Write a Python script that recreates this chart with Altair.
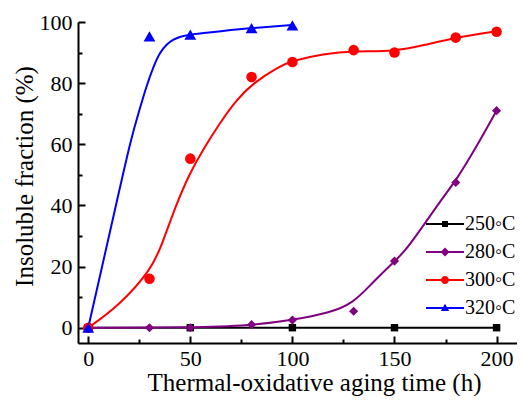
import altair as alt
import pandas as pd

# ---- data ----
series = ["250◦C", "280◦C", "300◦C", "320◦C"]
colors = ["#000000", "#800080", "#ff0000", "#0000ff"]
shapes = ["square", "diamond", "circle", "triangle-up"]
point_sizes = [55, 140, 80, 90]

# measured points
time_250 = [0, 50, 100, 150, 200]
frac_250 = [0, 0, 0, 0, 0]
time_280 = [0, 30, 50, 80, 100, 130, 150, 180, 200]
frac_280 = [0, 0, 0, 1, 2.5, 5.4, 21.8, 47.5, 71]
time_300 = [0, 30, 50, 80, 100, 130, 150, 180, 200]
frac_300 = [0, 16, 55.3, 82, 86.9, 90.8, 90, 94.9, 96.8]
time_320 = [0, 30, 50, 80, 100]
frac_320 = [0, 95.3, 95.9, 98, 98.9]

# fitted curves
curve_t_250 = [0, 200]
curve_f_250 = [0, 0]
curve_t_280 = [0, 50, 80, 100, 118, 130, 139, 150, 156, 173, 180, 190, 200]
curve_f_280 = [0, 0, 0.7, 2.5, 4.8, 8.1, 14.6, 21.7, 25.5, 42, 48, 59, 71]
curve_t_300 = [0, 14.8, 30.9, 36, 43.2, 49.7, 56.2, 64.4, 72.5, 80.7, 93.7, 100,
               115, 130, 150, 165, 180, 200]
curve_f_300 = [0, 7, 19, 27, 40.5, 50.5, 58.2, 66.9, 74.5, 80, 85.5, 87.3,
               89.6, 90.6, 90.3, 92.5, 94.9, 97]
curve_t_320 = [0, 6.8, 13.8, 21, 25, 28.5, 32, 35, 38.5, 41.5, 45, 50, 65, 80, 100]
curve_f_320 = [0, 20, 40.7, 62, 71, 79, 85.5, 90, 92.8, 94.2, 95.2, 96, 97, 98, 99]

x_major = [0, 50, 100, 150, 200]
x_minor = [25, 75, 125, 175]
y_major = [0, 20, 40, 60, 80, 100]
y_minor = [10, 30, 50, 70, 90]

# legend glyphs: line segment + marker
line_seg = "M-1.9,-0.1H1.9V0.1H-1.9Z"
legend_paths = [
    line_seg + " M-0.3,-0.3H0.3V0.3H-0.3Z",
    line_seg + " M0,-0.45L0.45,0L0,0.45L-0.45,0Z",
    line_seg + " M-0.4,0A0.4,0.4,0,1,1,0.4,0A0.4,0.4,0,1,1,-0.4,0Z",
    line_seg + " M0,-0.42L0.42,0.3L-0.42,0.3Z",
]

# ---- tables ----
pts = pd.concat([
    pd.DataFrame({"t": t, "f": f, "s": s})
    for t, f, s in zip([time_250, time_280, time_300, time_320],
                       [frac_250, frac_280, frac_300, frac_320], series)
], ignore_index=True)
crv = pd.concat([
    pd.DataFrame({"t": t, "f": f, "s": s})
    for t, f, s in zip([curve_t_250, curve_t_280, curve_t_300, curve_t_320],
                       [curve_f_250, curve_f_280, curve_f_300, curve_f_320], series)
], ignore_index=True)

W, H = 439, 321
FONT = "Liberation Serif"
xs = alt.Scale(domain=[-5, 210], nice=False, zero=False)
ys = alt.Scale(domain=[-5, 100], nice=False, zero=False)
cs = alt.Scale(domain=series, range=colors)

tick_common = dict(labels=False, domain=False, grid=False, title=None,
                   tickColor="black", tickWidth=2)

lines = alt.Chart(crv).mark_line(strokeWidth=2, interpolate="basis").encode(
    x=alt.X("t:Q", scale=xs, axis=alt.Axis(
        orient="bottom", values=x_major, ticks=False, tickSize=0, grid=False,
        domainColor="black", domainWidth=2, labelFont=FONT, labelFontSize=22,
        labelColor="black", labelPadding=5, labelFlush=False,
        title="Thermal-oxidative aging time (h)", titleFont=FONT,
        titleFontSize=25, titleFontWeight="normal", titleColor="black",
        titleX=236, titleY=47, titleAlign="center", titleBaseline="alphabetic")),
    y=alt.Y("f:Q", scale=ys, axis=alt.Axis(
        orient="left", values=y_major, ticks=False, tickSize=0, grid=False,
        domainColor="black", domainWidth=2, labelFont=FONT, labelFontSize=22,
        labelColor="black", labelPadding=6, labelFlush=False,
        title="Insoluble fraction (%)", titleFont=FONT, titleFontSize=25,
        titleFontWeight="normal", titleColor="black", titleAngle=270,
        titleX=-46, titleY=154, titleAlign="center", titleBaseline="alphabetic")),
    color=alt.Color("s:N", scale=cs, legend=None),
    detail="s:N",
)

points = alt.Chart(pts).mark_point(filled=True, opacity=1).encode(
    x=alt.X("t:Q", scale=xs, axis=alt.Axis(orient="top", offset=-H,
                                           values=x_major, tickSize=7, **tick_common)),
    y=alt.Y("f:Q", scale=ys, axis=alt.Axis(orient="right", offset=-W,
                                           values=y_major, tickSize=7, **tick_common)),
    color=alt.Color("s:N", scale=cs, legend=None),
    shape=alt.Shape("s:N", scale=alt.Scale(domain=series, range=shapes), legend=None),
    size=alt.Size("s:N", scale=alt.Scale(domain=series, range=point_sizes), legend=None),
)

leg = alt.Legend(orient="none", legendX=357, legendY=192, title=None, padding=0,
                 symbolSize=400, symbolStrokeWidth=0, symbolOpacity=1,
                 labelFont=FONT, labelFontSize=20, labelColor="black",
                 labelOffset=10, rowPadding=8)

legend_layer = alt.Chart(pts).mark_point(filled=True, opacity=0).encode(
    x=alt.X("t:Q", scale=xs, axis=alt.Axis(orient="top", offset=-H,
                                           values=x_minor, tickSize=4, **tick_common)),
    y=alt.Y("f:Q", scale=ys, axis=alt.Axis(orient="right", offset=-W,
                                           values=y_minor, tickSize=4, **tick_common)),
    color=alt.Color("s:N", scale=cs, legend=leg),
    shape=alt.Shape("s:N", scale=alt.Scale(domain=series, range=legend_paths), legend=leg),
)

chart = alt.layer(lines, points, legend_layer).resolve_scale(
    color="independent", shape="independent", size="independent"
).resolve_axis(x="independent", y="independent").properties(
    width=W, height=H,
    padding={"left": 70, "top": 14, "right": 0, "bottom": 53},
    autosize=alt.AutoSizeParams(type="none"),
    background="white",
).configure_view(stroke=None)

chart.save("out.html", embed_options={"renderer": "svg", "actions": False})
